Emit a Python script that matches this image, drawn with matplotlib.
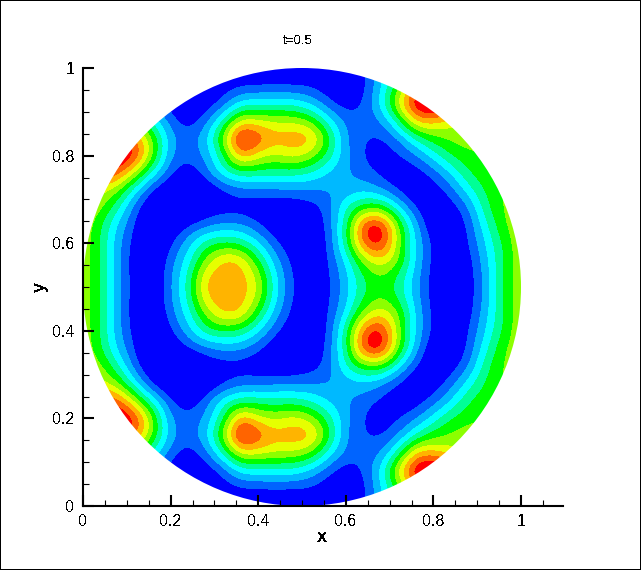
import numpy as np
import matplotlib
matplotlib.use("Agg")
import matplotlib.pyplot as plt
from matplotlib.colors import ListedColormap, BoundaryNorm
from matplotlib.patches import Circle
from matplotlib.ticker import MultipleLocator

plt.rcParams['font.family'] = ['Liberation Sans', 'DejaVu Sans']
plt.rcParams['text.antialiased'] = False

# grid of the field (in units of colour bands)
x_grid = [0.00, 0.04, 0.08, 0.12, 0.16, 0.20, 0.24, 0.28, 0.32, 0.36, 0.40, 0.44, 0.48,
          0.52, 0.56, 0.60, 0.64, 0.68, 0.72, 0.76, 0.80, 0.84, 0.88, 0.92, 0.96, 1.00]
y_grid = [1.00, 0.96, 0.92, 0.88, 0.84, 0.80, 0.76, 0.72, 0.68, 0.64, 0.60, 0.56, 0.52,
          0.48, 0.44, 0.40, 0.36, 0.32, 0.28, 0.24, 0.20, 0.16, 0.12, 0.08, 0.04, 0.00]
u_rows = [
    [-1, -1, -1, -1, -1, -1, -1, -1, -1, -1, -1, -1, -1, -1, -1, -1, 0.2, 2.5, 4, 5, 5, 5, 5, 5, 5, 5],
    [-1, -1, -1, -1, -1, -1, -1, -1, -0.2, 0.3, 0.4, 0.45, 0.4, 0.4, -0.4, -1, 0.1, 2.3, 5, 8.5, 9.5, 9, 9, 9, 9, 9],
    [3, 3, 3, 2, 1.5, -0.2, -1, -0.4, 0.8, 2.9, 3.0, 3.1, 3.1, 2.2, 0.8, -0.3, 0.5, 2.8, 7.2, 11.2, 12, 11, 11, 11, 11, 11],
    [5, 5, 6, 5, 3.0, 1.0, -0.3, 1.1, 3.6, 7.0, 6.8, 6.4, 6.4, 5.6, 3.0, 1.2, 0.8, 1.4, 4.0, 8.2, 8.1, 6.8, 6.5, 6.5, 6.5, 6.5],
    [10, 10, 10, 9.0, 5.6, 1.8, 0.9, 2.2, 6.0, 11.4, 9.6, 8.1, 8.5, 8.4, 5.2, 1.4, 0.55, 0.3, 1.4, 3.7, 5.2, 5.7, 6.2, 6.2, 6.2, 6.2],
    [11, 11, 11.5, 10.0, 5.8, 1.4, 0.8, 1.6, 4.3, 8.8, 6.9, 6.3, 7.2, 6.2, 4.2, 1.7, 0.45, -0.4, 0.4, 1.3, 3.0, 4.7, 5.2, 5.4, 5.5, 5.5],
    [10, 10, 9.2, 6.3, 3.0, 0.7, -0.5, 1.1, 3.2, 4.1, 4.0, 3.9, 3.9, 3.4, 2.3, 1.6, 1.0, 0.2, -0.6, -0.2, 0.9, 2.5, 4.6, 5.3, 5.5, 5.5],
    [7.5, 6.7, 5.7, 2.6, 0.1, -1, -1.5, -1, 0.2, 1.0, 1.1, 1.2, 1.3, 1.4, 1.4, 1.8, 2.3, 1.6, 0.3, -0.8, -0.3, 1.0, 3.0, 4.8, 5.6, 5.8],
    [6.5, 5.9, 3.7, 0.8, -1, -2, -2, -0.5, -0.2, -0.2, -0.5, -0.7, -0.6, -0.1, 0.9, 3.6, 5.2, 5.5, 2.9, 0.4, -1, -0.2, 1.3, 4.3, 5.7, 6.2],
    [6.4, 4.7, 2.2, 0.4, -2, -0.9, 0.6, 1.2, 1.8, 1.7, 0.7, -0.6, -1, -1, 0.9, 3.9, 10.2, 10.9, 5.8, 1.9, -0.7, -1, 0.7, 3.3, 5.5, 6.3],
    [6.3, 4.6, 1.8, -0.1, -1.5, 0.4, 2.1, 4.2, 4.7, 4.3, 2.7, 0.7, -0.5, -1.2, 0.6, 4.1, 9.4, 10.6, 6.0, 2.3, 0.2, -1.2, 0.5, 2.6, 4.8, 6.4],
    [6.2, 4.6, 1.7, -0.3, -1, 1.1, 3.0, 5.9, 8.0, 7.8, 4.8, 1.9, 0.1, -1.1, 0.5, 2.6, 5.9, 7.4, 5.8, 2.3, 0.1, -1.2, 0, 2.2, 4.6, 6.3],
    [6.2, 4.6, 1.7, -0.2, -0.9, 1.4, 3.7, 7.9, 8.3, 8.2, 6.6, 2.7, 0.4, -0.8, 0.2, 2.1, 4.4, 5.4, 4.2, 1.9, -0.1, -1.2, -0.2, 1.9, 4.8, 6.3],
    [6.2, 4.6, 1.7, -0.2, -0.9, 1.4, 3.7, 7.9, 8.3, 8.2, 6.6, 2.7, 0.4, -0.8, 0.2, 2.1, 4.4, 5.4, 4.2, 1.9, -0.1, -1.2, -0.2, 1.9, 4.8, 6.3],
    [6.2, 4.6, 1.7, -0.3, -1, 1.1, 3.0, 5.9, 8.0, 7.8, 4.8, 1.9, 0.1, -1.1, 0.5, 2.6, 5.9, 7.4, 5.8, 2.3, 0.1, -1.2, 0, 2.2, 4.6, 6.3],
    [6.3, 4.6, 1.8, -0.1, -1.5, 0.4, 2.1, 4.2, 4.7, 4.3, 2.7, 0.7, -0.5, -1.2, 0.6, 4.1, 9.4, 10.6, 6.0, 2.3, 0.2, -1.2, 0.5, 2.6, 4.8, 6.4],
    [6.4, 4.7, 2.2, 0.4, -2, -0.9, 0.6, 1.2, 1.8, 1.7, 0.7, -0.6, -1, -1, 0.9, 3.9, 10.2, 10.9, 5.8, 1.9, -0.7, -1, 0.7, 3.3, 5.5, 6.3],
    [6.5, 5.9, 3.7, 0.8, -1, -2, -2, -0.5, -0.2, -0.2, -0.5, -0.7, -0.6, -0.1, 0.9, 3.6, 5.2, 5.5, 2.9, 0.4, -1, -0.2, 1.3, 4.3, 5.7, 6.2],
    [7.5, 6.7, 5.7, 2.6, 0.1, -1, -1.5, -1, 0.2, 1.0, 1.1, 1.2, 1.3, 1.4, 1.4, 1.8, 2.3, 1.6, 0.3, -0.8, -0.3, 1.0, 3.0, 4.8, 5.6, 5.8],
    [10, 10, 9.2, 6.3, 3.0, 0.7, -0.5, 1.1, 3.2, 4.1, 4.0, 3.9, 3.9, 3.4, 2.3, 1.6, 1.0, 0.2, -0.6, -0.2, 0.9, 2.5, 4.6, 5.3, 5.5, 5.5],
    [11, 11, 11.5, 10.0, 5.8, 1.4, 0.8, 1.6, 4.3, 8.8, 6.9, 6.3, 7.2, 6.2, 4.2, 1.7, 0.45, -0.4, 0.4, 1.3, 3.0, 4.7, 5.2, 5.4, 5.5, 5.5],
    [10, 10, 10, 9.0, 5.6, 1.8, 0.9, 2.2, 6.0, 11.4, 9.6, 8.1, 8.5, 8.4, 5.2, 1.4, 0.55, 0.3, 1.4, 3.7, 5.2, 5.7, 6.2, 6.2, 6.2, 6.2],
    [5, 5, 6, 5, 3.0, 1.0, -0.3, 1.1, 3.6, 7.0, 6.8, 6.4, 6.4, 5.6, 3.0, 1.2, 0.8, 1.4, 4.0, 8.2, 8.1, 6.8, 6.5, 6.5, 6.5, 6.5],
    [3, 3, 3, 2, 1.5, -0.2, -1, -0.4, 0.8, 2.9, 3.0, 3.1, 3.1, 2.2, 0.8, -0.3, 0.5, 2.8, 7.2, 11.2, 12, 11, 11, 11, 11, 11],
    [-1, -1, -1, -1, -1, -1, -1, -1, -0.2, 0.3, 0.4, 0.45, 0.4, 0.4, -0.4, -1, 0.1, 2.3, 5, 8.5, 9.5, 9, 9, 9, 9, 9],
    [-1, -1, -1, -1, -1, -1, -1, -1, -1, -1, -1, -1, -1, -1, -1, -1, 0.2, 2.5, 4, 5, 5, 5, 5, 5, 5, 5],
]
band_edges = [-100, 0.5, 1.5, 2.5, 3.5, 4.5, 5.5, 6.5, 7.5, 8.5, 9.5, 100]
band_colors = ['#0000ff', '#0064ff', '#00b9ff', '#00ffff', '#00ff96', '#00ff00',
               '#8cff00', '#e6ff00', '#ffb400', '#ff6400', '#ff0000']

W, H = 641, 570
fig = plt.figure(figsize=(W / 100, H / 100), dpi=100, facecolor='white', edgecolor='black', linewidth=1.44)
ax = fig.add_axes([83 / W, (H - 506) / H, 480 / W, 438 / H])

# bicubic on the data, then the band colours, gives smooth band edges on the read grid
half_step = (x_grid[1] - x_grid[0]) / 2
img = ax.imshow(np.array(u_rows), cmap=ListedColormap(band_colors), norm=BoundaryNorm(band_edges, len(band_colors)),
                extent=[x_grid[0] - half_step, x_grid[-1] + half_step, y_grid[-1] - half_step, y_grid[0] + half_step],
                origin='upper', interpolation='bicubic', interpolation_stage='data', aspect='auto')
disc = Circle((0.5, 0.5), 0.5, transform=ax.transData)
img.set_clip_path(disc)

ax.set_xlim(0, 480 / 438)
ax.set_ylim(0, 1)
for side in ['top', 'right']:
    ax.spines[side].set_visible(False)
for side in ['left', 'bottom']:
    ax.spines[side].set_linewidth(1.5)

ax.xaxis.set_major_locator(MultipleLocator(0.2))
ax.xaxis.set_minor_locator(MultipleLocator(0.05))
ax.yaxis.set_major_locator(MultipleLocator(0.2))
ax.yaxis.set_minor_locator(MultipleLocator(0.05))
fmt = lambda v, pos: f'{v:g}'
ax.xaxis.set_major_formatter(fmt)
ax.yaxis.set_major_formatter(fmt)
ax.tick_params(which='major', direction='in', length=8, width=1.5, labelsize=11.5, pad=6)
ax.tick_params(which='minor', direction='in', length=4, width=0.8)

fig.text(298 / W, 1 - 41 / H, 't=0.5', ha='center', va='center', fontsize=9.5)
fig.text(322 / W, 1 - 538 / H, 'x', ha='center', va='center', fontsize=13, fontweight='bold')
fig.text(40 / W, 1 - 287 / H, 'y', ha='center', va='center', fontsize=13, fontweight='bold', rotation=90)

fig.savefig('out.png', dpi=100)
